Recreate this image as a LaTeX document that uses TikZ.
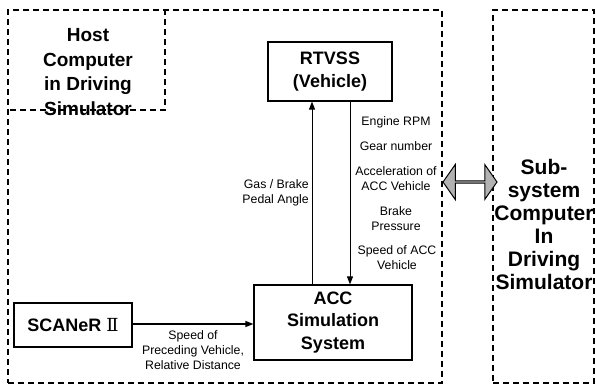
\documentclass[tikz,border=0pt]{standalone}
\usepackage{fontspec}
\setmainfont{Liberation Sans}
\newfontfamily\numfont{DejaVu Serif}
\usetikzlibrary{positioning, shapes.arrows, arrows.meta}

\begin{document}
\begin{tikzpicture}[x=1pt,y=-1pt,
dashbox/.style={draw,dash pattern=on 6pt off 4pt,line width=1.3pt,minimum height=373pt},
mybox/.style={draw,line width=1.2pt,align=center,font=\bfseries\fontsize{18}{22.5}\selectfont},
bigtext/.style={align=center,inner sep=0pt},
small/.style={align=center,inner sep=0pt,font=\fontsize{12.3}{15}\selectfont},
>={Triangle[length=8pt,width=6pt]}
]
\useasboundingbox (0,0) rectangle (596,388);
% outer computers
\node[dashbox,minimum width=434pt] (host) at (225,196.5) {};
\node[dashbox,minimum width=101pt] (sub) at (543.5,196.5) {};
\coordinate (hostcorner) at (165,110);
\draw[dash pattern=on 6pt off 4pt,line width=1.3pt] (host.north -| hostcorner) -- (hostcorner) -- (hostcorner -| host.west);
\node[bigtext,font=\bfseries\fontsize{19}{24.5}\selectfont] (hosttext) at (88,72) {Host\\Computer\\in Driving\\Simulator};
\node[bigtext,font=\bfseries\fontsize{21}{23}\selectfont] (subtext) at (544,224) {Sub-\\system\\Computer\\In\\Driving\\Simulator};
% blocks
\node[mybox,minimum width=124pt,minimum height=59pt] (rtvss) at (330,71.5) {RTVSS\\(Vehicle)};
\node[mybox,minimum width=158pt,minimum height=75pt] (acc) at (333,322.5) {ACC\\Simulation\\System};
\node[mybox,minimum width=118pt,minimum height=44pt] (scaner) at (73,325) {SCANeR {\numfont\mdseries Ⅱ}};
% signals
\draw[->,line width=0.9pt] ([xshift=-21pt]acc.north) -- ([xshift=-21pt]acc.north |- rtvss.south);
\draw[->,line width=0.9pt] ([xshift=20pt]rtvss.south) -- ([xshift=20pt]rtvss.south |- acc.north);
\draw[->,line width=1.2pt] (scaner.east |- 0,324) -- (acc.west |- 0,324);
\node[small,align=right,anchor=east] (pedal) at (309,193) {Gas / Brake\\Pedal Angle};
\node[small] (rpm) at (396,122) {Engine RPM};
\node[small] (gear) at (396,146) {Gear number};
\node[small] (accel) at (396,178.5) {Acceleration of\\ACC Vehicle};
\node[small] (brake) at (396,219) {Brake\\Pressure};
\node[small] (speed) at (397,257.5) {Speed of ACC\\Vehicle};
\node[small] (preceding) at (193,350) {Speed of\\Preceding Vehicle,\\Relative Distance};
% link between computers
\node[double arrow,draw,line width=1pt,fill=black!30,minimum width=35pt,minimum height=54pt,
  double arrow head extend=8pt,double arrow tip angle=110,inner sep=0pt] (link) at (470,182) {};
\end{tikzpicture}
\end{document}
